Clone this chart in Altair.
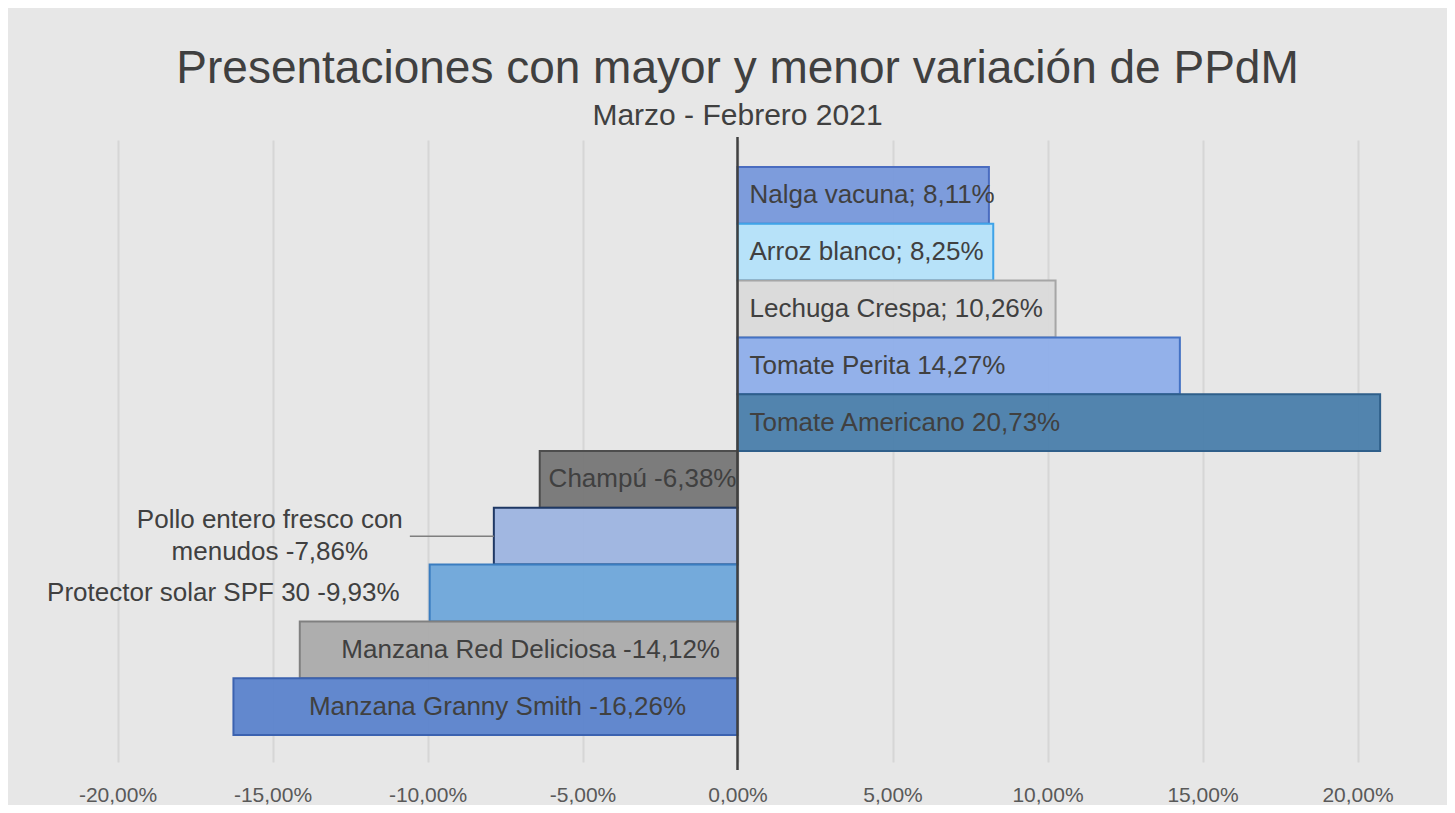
import altair as alt
import pandas as pd

categories = [
    "Nalga vacuna", "Arroz blanco", "Lechuga Crespa", "Tomate Perita",
    "Tomate Americano", "Champú", "Pollo entero fresco con menudos",
    "Protector solar SPF 30", "Manzana Red Deliciosa", "Manzana Granny Smith",
]
values = [8.11, 8.25, 10.26, 14.27, 20.73, -6.38, -7.86, -9.93, -14.12, -16.26]
labels = [
    "Nalga vacuna; 8,11%", "Arroz blanco; 8,25%", "Lechuga Crespa; 10,26%",
    "Tomate Perita 14,27%", "Tomate Americano 20,73%", "Champú -6,38%",
    "Pollo entero fresco con\nmenudos -7,86%", "Protector solar SPF 30 -9,93%",
    "Manzana Red Deliciosa -14,12%", "Manzana Granny Smith -16,26%",
]
placement = ["start", "start", "start", "start", "start", "end",
             "outside_leader", "outside", "center", "center"]
fills = ["#7798db", "#b4e1fa", "#dadada", "#8eaeea", "#4a7eab",
         "#767676", "#9db4e0", "#6ea7da", "#ababab", "#5b83cc"]
strokes = ["#4a6cc0", "#3fa3e8", "#a6a6a6", "#4472c4", "#2f5f8a",
           "#4d4d4d", "#1f3864", "#3a7dc0", "#808080", "#3b62b0"]
tick_values = [-20, -15, -10, -5, 0, 5, 10, 15, 20]

df = pd.DataFrame({
    "cat": categories, "value": values, "label": labels,
    "place": placement, "fill": fills, "stroke": strokes,
})
df["half"] = df["value"] / 2

FONT = "Liberation Sans"
TXT = "#404040"

x_scale = alt.Scale(domain=[-22.5, 22.5], nice=False, zero=False)
y_scale = alt.Scale(paddingInner=0, paddingOuter=0.475)
y_enc = alt.Y("cat:N", sort=categories, scale=y_scale, axis=None)

base = alt.Chart(df)

bars = base.mark_bar(strokeWidth=2, fillOpacity=0.95).encode(
    x=alt.X(
        "value:Q", scale=x_scale,
        axis=alt.Axis(
            values=tick_values, title=None, ticks=False, domain=False,
            grid=True, gridColor="#d6d6d6", gridWidth=2,
            labelExpr="(datum.value < 0 ? '-' : '') + replace(format(abs(datum.value), '.2f'), '.', ',') + '%'",
            labelFont=FONT, labelFontSize=21, labelColor="#595959",
            labelPadding=22,
        ),
    ),
    x2=alt.datum(0),
    y=y_enc,
    fill=alt.Fill("fill:N", scale=None),
    stroke=alt.Stroke("stroke:N", scale=None),
)

zero_line = alt.Chart(pd.DataFrame({"z": [0]})).mark_rule(
    color="#404040", strokeWidth=2.5
).encode(x=alt.X("z:Q", scale=x_scale), y=alt.value(-3), y2=alt.value(630))

txt_common = dict(font=FONT, fontSize=26, color=TXT, baseline="middle")

t_start = base.transform_filter("datum.place == 'start'").mark_text(
    align="left", dx=12, **txt_common
).encode(x=alt.datum(0, scale=x_scale), y=y_enc, text="label:N")

t_end = base.transform_filter("datum.place == 'end'").mark_text(
    align="right", dx=-1, **txt_common
).encode(x=alt.datum(0, scale=x_scale), y=y_enc, text="label:N")

t_center = base.transform_filter("datum.place == 'center'").mark_text(
    align="center", dx=12, **txt_common
).encode(x=alt.X("half:Q", scale=x_scale), y=y_enc, text="label:N")

t_out = base.transform_filter("datum.place == 'outside'").mark_text(
    align="right", dx=-30, **txt_common
).encode(x=alt.X("value:Q", scale=x_scale), y=y_enc, text="label:N")

t_lead = base.transform_filter("datum.place == 'outside_leader'").mark_text(
    align="center", dx=-224, dy=-16, lineBreak="\n", lineHeight=32, **txt_common
).encode(x=alt.X("value:Q", scale=x_scale), y=y_enc, text="label:N")

leader = base.transform_filter("datum.place == 'outside_leader'").mark_rule(
    color="#7f7f7f", strokeWidth=1.5, xOffset=-84, x2Offset=0
).encode(x=alt.X("value:Q", scale=x_scale), x2="value:Q", y=y_enc)

chart = alt.layer(
    bars, zero_line, t_start, t_end, t_center, t_out, t_lead, leader
).properties(
    width=1395, height=622,
    autosize=alt.AutoSizeParams(type="none"),
    padding={"left": 32, "top": 132, "right": 12, "bottom": 43},
    background="#e7e7e7",
    title=alt.Title(
        text="Presentaciones con mayor y menor variación de PPdM",
        subtitle="Marzo - Febrero 2021",
        font=FONT, fontSize=46, fontWeight="normal", color=TXT,
        subtitleFont=FONT, subtitleFontSize=30, subtitleColor=TXT,
        anchor="middle", offset=4, subtitlePadding=8,
    ),
).configure_view(stroke=None)

chart.save("out.html", embed_options={"renderer": "svg", "actions": False})
